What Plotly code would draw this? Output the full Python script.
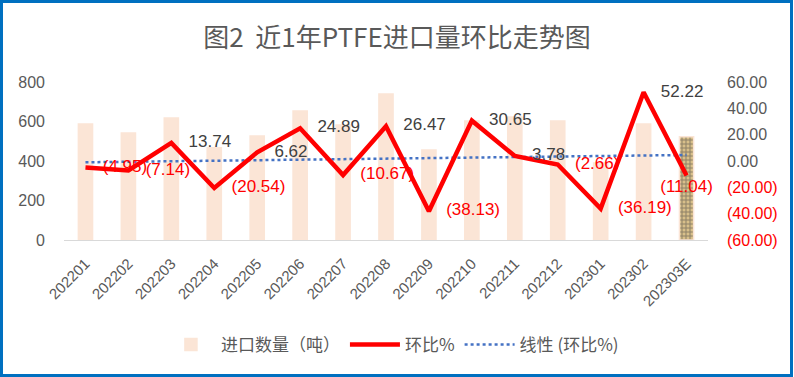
import numpy as np
import plotly.graph_objects as go

categories = ["202201", "202202", "202203", "202204", "202205", "202206", "202207",
              "202208", "202209", "202210", "202211", "202212", "202301", "202302", "202303E"]
import_qty = [587, 542, 618, 467, 527, 653, 582, 739, 456, 602, 623, 603, 390, 587, 523]
mom_pct = [-4.95, -7.14, 13.74, -20.54, 6.62, 24.89, -10.67, 26.47, -38.13, 30.65,
           3.78, -2.66, -36.19, 52.22, -11.04]
left_ticks = [0, 200, 400, 600, 800]
right_ticks = [-60, -40, -20, 0, 20, 40, 60]

GRAY = "#595959"
RED = "#FF0000"
PEACH = "#FBE5D6"
FONT = "Liberation Sans, Noto Sans CJK SC, sans-serif"
CJK = "Noto Sans CJK SC, sans-serif"

def fmt(v):
    return f"({abs(v):.2f})" if v < 0 else f"{v:.2f}"

def fmt_tick(v):
    s = f"{abs(v):.2f}"
    return f'<span style="color:{RED}">({s})</span>' if v < 0 else s

xs = np.arange(1, len(mom_pct) + 1)
slope, intercept = np.polyfit(xs, mom_pct, 1)
trend = list(intercept + slope * xs)

n = len(categories)
bar_colors = [PEACH] * (n - 1) + ["#D8BF8A"]
pat_shapes = [""] * (n - 1) + ["+"]
text_pos = ["middle right"] * (n - 1) + ["bottom center"]
marker_sizes = [26] * (n - 1) + [4]

fig = go.Figure()
fig.add_trace(go.Bar(
    x=categories, y=import_qty, name="进口数量（吨）",
    marker=dict(color=bar_colors, line=dict(color=PEACH, width=1.5),
                pattern=dict(shape=pat_shapes, fgcolor="#7A5C2E", bgcolor="#D8BF8A",
                             size=4, solidity=0.45, fillmode="overlay")),
    yaxis="y", width=0.33, legendrank=1,
))
fig.add_trace(go.Scatter(
    x=categories, y=trend, name="线性 (环比%)", yaxis="y2",
    mode="lines", line=dict(color="#4472C4", width=2.5, dash="dot"), legendrank=3,
))
fig.add_trace(go.Scatter(
    x=categories, y=mom_pct, name="环比%", yaxis="y2",
    mode="lines+markers+text",
    line=dict(color=RED, width=4.5),
    marker=dict(size=marker_sizes, color="rgba(0,0,0,0)",
                line=dict(width=0, color="rgba(0,0,0,0)")),
    text=[fmt(v) for v in mom_pct],
    textposition=text_pos,
    textfont=dict(size=17, family=FONT, color=[RED if v < 0 else "#404040" for v in mom_pct]),
    cliponaxis=False, legendrank=2,
))

fig.update_layout(
    width=794, height=377,
    margin=dict(l=64, r=86, t=82, b=137, autoexpand=False),
    paper_bgcolor="white", plot_bgcolor="white",
    title=dict(text="图2  近1年PTFE进口量环比走势图", x=0.5, xanchor="center",
               y=1 - 38 / 377, yanchor="middle",
               font=dict(family=CJK, size=26, color=GRAY)),
    font=dict(family=FONT, color=GRAY),
    bargap=0.67,
    showlegend=True,
    legend=dict(orientation="h", x=0.51, xanchor="center", y=-0.665, yanchor="middle",
                font=dict(family=CJK, size=17, color=GRAY),
                itemwidth=50, tracegroupgap=0),
    xaxis=dict(range=[-0.5, n - 0.5], autorange=False,
               tickangle=-45, tickfont=dict(size=15, color=GRAY, family=FONT),
               showline=True, linecolor="#D9D9D9", linewidth=1.2, ticks="",
               ticklabelstandoff=8, automargin=False),
    yaxis=dict(range=[0, 800], tickvals=left_ticks, showgrid=False, zeroline=False,
               tickfont=dict(size=16, color=GRAY, family=FONT), ticklabelstandoff=18,
               automargin=False),
    yaxis2=dict(range=[-60, 60], tickvals=right_ticks,
                ticktext=[fmt_tick(v) for v in right_ticks],
                overlaying="y", side="right", showgrid=False, zeroline=False,
                tickfont=dict(size=16, color=GRAY, family=FONT), ticklabelstandoff=18,
                automargin=False),
    shapes=[dict(type="rect", xref="paper", yref="paper",
                 x0=(1.5 - 64) / 644, x1=(791.5 - 64) / 644,
                 y0=(240 - 375.5) / 158, y1=(240 - 1.5) / 158,
                 line=dict(color="#0070C0", width=3), fillcolor="rgba(0,0,0,0)")],
)

fig.write_html("out.html", config={"displayModeBar": False},
               post_script="document.body.style.margin='0';document.body.style.overflow='hidden';")
